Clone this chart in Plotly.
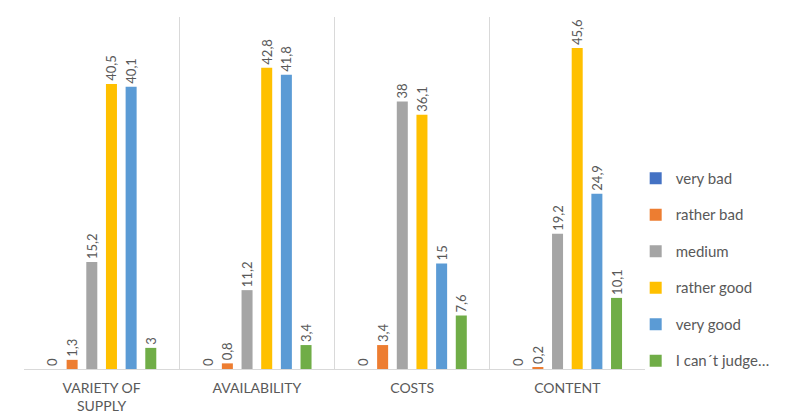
import plotly.graph_objects as go

categories = ["VARIETY OF<br>SUPPLY", "AVAILABILITY", "COSTS", "CONTENT"]
series_names = ["very bad", "rather bad", "medium", "rather good", "very good", "I can´t judge…"]
very_bad = [0, 0, 0, 0]
rather_bad = [1.3, 0.8, 3.4, 0.2]
medium = [15.2, 11.2, 38, 19.2]
rather_good = [40.5, 42.8, 36.1, 45.6]
very_good = [40.1, 41.8, 15, 24.9]
cant_judge = [3, 3.4, 7.6, 10.1]

series_values = [very_bad, rather_bad, medium, rather_good, very_good, cant_judge]
colors = ["#4472C4", "#ED7D31", "#A5A5A5", "#FFC000", "#5B9BD5", "#70AD47"]

FONT = "Lato, 'Open Sans', sans-serif"
TXT = "#595959"


def fmt(v):
    return ("%g" % v).replace(".", ",")


fig = go.Figure()
for i, (name, vals, col) in enumerate(zip(series_names, series_values, colors)):
    fig.add_trace(go.Bar(
        x=categories, y=vals, name=name,
        marker=dict(color=col, line=dict(width=0)),
        text=[fmt(v) for v in vals],
        textposition="outside",
        textangle=-90,
        constraintext="none",
        cliponaxis=False,
        textfont=dict(family=FONT, size=13, color=TXT),
        legendgroup="g%d" % i,
    ))

# the page body adds an 8px offset, so the figure is sized to fill the rest
fig.update_layout(
    width=795, height=407,
    margin=dict(l=16, r=158, t=9, b=46, autoexpand=False),
    paper_bgcolor="white", plot_bgcolor="white",
    barmode="group",
    bargap=0.24,
    bargroupgap=0.44,
    font=dict(family=FONT, color=TXT),
    showlegend=True,
    legend=dict(
        x=0.985, xanchor="left", y=0.283, yanchor="middle",
        font=dict(family=FONT, size=15, color=TXT),
        tracegroupgap=14,
        traceorder="grouped",
        itemwidth=30,
        bgcolor="rgba(0,0,0,0)",
    ),
    xaxis=dict(
        type="category",
        tickson="boundaries",
        showgrid=True, gridcolor="#D9D9D9", gridwidth=1,
        showline=True, linecolor="#D9D9D9", linewidth=1,
        ticks="",
        ticklabelstandoff=6,
        automargin=False,
        tickfont=dict(family=FONT, size=14, color=TXT),
        fixedrange=True,
    ),
    yaxis=dict(
        range=[0, 50],
        visible=False,
        showgrid=False, zeroline=False,
    ),
)

fig.write_html("out.html")
